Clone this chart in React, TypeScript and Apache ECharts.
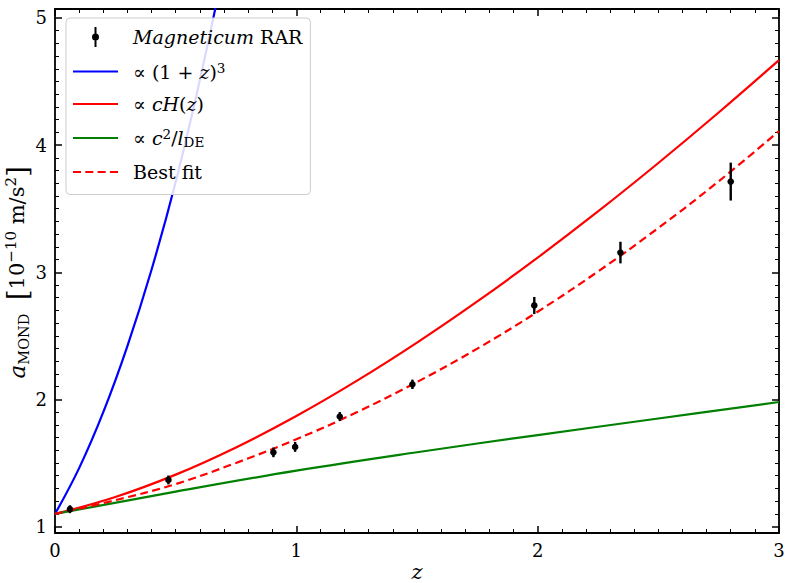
import React, { useEffect, useRef } from "react";
import * as echarts from "echarts";

// Simulation points (Magneticum RAR)
const zPoints = [0.062, 0.47, 0.905, 0.995, 1.18, 1.481, 1.986, 2.343, 2.8];
const aPoints = [1.137, 1.367, 1.584, 1.627, 1.866, 2.119, 2.739, 3.155, 3.713];
const aErrors = [0.031, 0.035, 0.038, 0.039, 0.035, 0.037, 0.067, 0.085, 0.149];

// ∝ cH(z) and best-fit curves
const zCurve = [0, 0.25, 0.5, 0.75, 1.0, 1.25, 1.5, 1.75, 2.0, 2.25, 2.5, 2.75, 3.0];
const cHzValues = [1.1, 1.233, 1.409, 1.623, 1.87, 2.146, 2.447, 2.771, 3.115, 3.478, 3.859, 4.256, 4.668];
const bestFitValues = [1.1, 1.208, 1.335, 1.501, 1.687, 1.899, 2.137, 2.4, 2.69, 3.006, 3.348, 3.715, 4.11];

// ∝ c^2 / l_DE
const zGreen = [0, 0.5, 1.0, 1.5, 2.0, 2.5, 3.0];
const greenValues = [1.1, 1.275, 1.44, 1.585, 1.72, 1.85, 1.98];

// ∝ (1+z)^3
const zBlue = [0, 0.1, 0.2, 0.3, 0.4, 0.5, 0.6, 0.7];
const blueValues = [1.1, 1.46, 1.9, 2.42, 3.02, 3.71, 4.51, 5.4];

const xTicks = [0, 1, 2, 3];
const yTicks = [1, 2, 3, 4, 5];

const FONT = "DejaVu Serif";

const legendRich = {
  rm: { fontFamily: FONT, fontSize: 19, lineHeight: 22, verticalAlign: "middle", color: "#000" },
  it: { fontFamily: FONT, fontSize: 19, lineHeight: 22, fontStyle: "italic", verticalAlign: "middle", color: "#000" },
  sup: { fontFamily: FONT, fontSize: 13.5, lineHeight: 13, verticalAlign: "top", color: "#000" },
  sub: { fontFamily: FONT, fontSize: 13.5, lineHeight: 11, verticalAlign: "bottom", color: "#000" },
};

const titleRich = {
  rm: { fontFamily: FONT, fontSize: 21, lineHeight: 28, verticalAlign: "middle", color: "#000" },
  it: { fontFamily: FONT, fontSize: 23, lineHeight: 28, fontStyle: "italic", verticalAlign: "middle", color: "#000" },
  sup: { fontFamily: FONT, fontSize: 15, lineHeight: 16, verticalAlign: "top", color: "#000" },
  sub: { fontFamily: FONT, fontSize: 14.5, lineHeight: 13, verticalAlign: "bottom", color: "#000" },
  br: { fontFamily: FONT, fontSize: 28, lineHeight: 28, verticalAlign: "middle", color: "#000" },
  zit: { fontFamily: FONT, fontSize: 21, lineHeight: 24, fontStyle: "italic", verticalAlign: "middle", color: "#000" },
};

const legendLabels: Record<string, string> = {
  "Magneticum RAR": "{it|Magneticum}{rm| RAR}",
  "(1+z)^3": "{rm|∝ (1 + }{it|z}{rm|)}{sup|3}",
  "cH(z)": "{rm|∝ }{it|cH}{rm|(}{it|z}{rm|)}",
  "c^2/l_DE": "{rm|∝ }{it|c}{sup|2}{rm|/}{it|l}{sub|DE}",
  "Best fit": "{rm|Best fit}",
};

const pairs = (xs: number[], ys: number[]) => xs.map((x, i) => [x, ys[i]]);

const LINE_ICON = "path://M0,0 L45,0 L45,2.2 L0,2.2 Z";
const DASH_ICON =
  "path://M0,0 L8,0 L8,2.2 L0,2.2 Z M12.3,0 L20.3,0 L20.3,2.2 L12.3,2.2 Z M24.6,0 L32.6,0 L32.6,2.2 L24.6,2.2 Z M36.9,0 L45,0 L45,2.2 L36.9,2.2 Z";
const ERR_ICON =
  "path://M5,0 L7,0 L7,7 L5,7 Z M6,6.5 A3.5,3.5 0 1 1 6,13.5 A3.5,3.5 0 1 1 6,6.5 Z M5,13 L7,13 L7,20 L5,20 Z";

export default function App() {
  const ref = useRef<HTMLDivElement>(null);

  useEffect(() => {
    if (!ref.current) return;
    const chart = echarts.init(ref.current, null, { renderer: "svg" });

    const tickCommon = {
      axisLine: { show: false },
      axisTick: { show: true, inside: true, length: 7, lineStyle: { color: "#000", width: 1.5 } },
      minorTick: { show: true, splitNumber: 10, length: 4, lineStyle: { color: "#000", width: 1 } },
      splitLine: { show: false },
      minorSplitLine: { show: false },
    };

    const option = {
      animation: false,
      backgroundColor: "#fff",
      grid: [
        {
          left: 55, right: 10, top: 9, bottom: 50,
          containLabel: false, outerBoundsMode: "none",
          show: true, borderColor: "#000", borderWidth: 1.8, backgroundColor: "transparent",
        },
        { left: 55, right: 10, top: 17.9, bottom: 56.4, containLabel: false, outerBoundsMode: "none", show: false },
      ],
      xAxis: [
        {
          gridIndex: 0,
          type: "value",
          position: "bottom",
          min: 0,
          max: 3,
          interval: 1,
          ...tickCommon,
          axisLabel: {
            show: true,
            margin: 8,
            fontFamily: FONT,
            fontSize: 18,
            color: "#000",
            formatter: (v: number) => (xTicks.includes(v) ? String(v) : ""),
          },
          name: "{zit|z}",
          nameLocation: "middle",
          nameMoveOverlap: false,
          nameGap: 27,
          nameTextStyle: { rich: titleRich },
        },
        {
          gridIndex: 0,
          type: "value",
          position: "top",
          min: 0,
          max: 3,
          interval: 1,
          ...tickCommon,
          axisLabel: { show: false },
        },
        { gridIndex: 1, type: "value", min: 0, max: 3, show: false },
      ],
      yAxis: [
        { gridIndex: 0, type: "value", min: 0.95, max: 5.07, interval: 0.01, show: false },
        {
          gridIndex: 1,
          type: "value",
          position: "left",
          min: 1,
          max: 5,
          interval: 1,
          ...tickCommon,
          axisLabel: {
            show: true,
            margin: 8,
            fontFamily: FONT,
            fontSize: 18,
            color: "#000",
            formatter: (v: number) => (yTicks.includes(v) ? String(v) : ""),
          },
          name: "{it|a}{sub|MOND}{rm|  }{br|[}{rm|10}{sup|−10}{rm| m/s}{sup|2}{br|]}",
          nameLocation: "middle",
          nameRotate: 90,
          nameMoveOverlap: false,
          nameGap: 24,
          nameTextStyle: { rich: titleRich },
        },
        {
          gridIndex: 1,
          type: "value",
          position: "right",
          min: 1,
          max: 5,
          interval: 1,
          ...tickCommon,
          axisLabel: { show: false },
        },
      ],
      legend: {
        orient: "vertical",
        left: 66,
        top: 18,
        padding: [9, 8, 13, 7],
        itemWidth: 45,
        itemHeight: 20,
        itemGap: 13.5,
        borderColor: "#cccccc",
        borderWidth: 1,
        borderRadius: 4,
        backgroundColor: "rgba(255,255,255,0.85)",
        selectedMode: false,
        formatter: (name: string) => legendLabels[name] || name,
        textStyle: { padding: [0, 0, 0, 10], rich: legendRich },
        data: [
          { name: "Magneticum RAR", icon: ERR_ICON, itemStyle: { color: "#000", borderWidth: 0 } },
          { name: "(1+z)^3", icon: LINE_ICON, itemStyle: { color: "#0000ff", borderWidth: 0 } },
          { name: "cH(z)", icon: LINE_ICON, itemStyle: { color: "#ff0000", borderWidth: 0 } },
          { name: "c^2/l_DE", icon: LINE_ICON, itemStyle: { color: "#008000", borderWidth: 0 } },
          { name: "Best fit", icon: DASH_ICON, itemStyle: { color: "#ff0000", borderWidth: 0 } },
        ],
      },
      series: [
        {
          name: "(1+z)^3",
          type: "line",
          xAxisIndex: 0,
          yAxisIndex: 0,
          data: pairs(zBlue, blueValues),
          smooth: 0.4,
          symbol: "none",
          lineStyle: { color: "#0000ff", width: 2.2 },
          itemStyle: { color: "#0000ff" },
          clip: true,
          z: 2,
        },
        {
          name: "cH(z)",
          type: "line",
          xAxisIndex: 0,
          yAxisIndex: 0,
          data: pairs(zCurve, cHzValues),
          smooth: 0.4,
          symbol: "none",
          lineStyle: { color: "#ff0000", width: 2.2 },
          itemStyle: { color: "#ff0000" },
          z: 2,
        },
        {
          name: "c^2/l_DE",
          type: "line",
          xAxisIndex: 0,
          yAxisIndex: 0,
          data: pairs(zGreen, greenValues),
          smooth: 0.4,
          symbol: "none",
          lineStyle: { color: "#008000", width: 2.2 },
          itemStyle: { color: "#008000" },
          z: 2,
        },
        {
          name: "Best fit",
          type: "line",
          xAxisIndex: 0,
          yAxisIndex: 0,
          data: pairs(zCurve, bestFitValues),
          smooth: 0.4,
          symbol: "none",
          lineStyle: { color: "#ff0000", width: 2.2, type: [8, 4.5] },
          itemStyle: { color: "#ff0000" },
          z: 2,
        },
        {
          name: "Magneticum RAR",
          type: "custom",
          xAxisIndex: 0,
          yAxisIndex: 0,
          data: zPoints.map((z, i) => [z, aPoints[i], aErrors[i]]),
          encode: { x: 0, y: 1 },
          itemStyle: { color: "#000" },
          z: 3,
          renderItem: (params: any, api: any) => {
            const z = api.value(0);
            const a = api.value(1);
            const e = api.value(2);
            const top = api.coord([z, a + e]);
            const bot = api.coord([z, a - e]);
            const c = api.coord([z, a]);
            return {
              type: "group",
              children: [
                {
                  type: "line",
                  shape: { x1: top[0], y1: top[1], x2: bot[0], y2: bot[1] },
                  style: { stroke: "#000", lineWidth: 2.4 },
                },
                {
                  type: "circle",
                  shape: { cx: c[0], cy: c[1], r: 3.3 },
                  style: { fill: "#000" },
                },
              ],
            };
          },
        },
      ],
    };

    chart.setOption(option as any);
    return () => chart.dispose();
  }, []);

  return (
    <div
      ref={ref}
      style={{ position: "fixed", left: 0, top: 0, width: 789, height: 583, background: "#fff" }}
    />
  );
}
